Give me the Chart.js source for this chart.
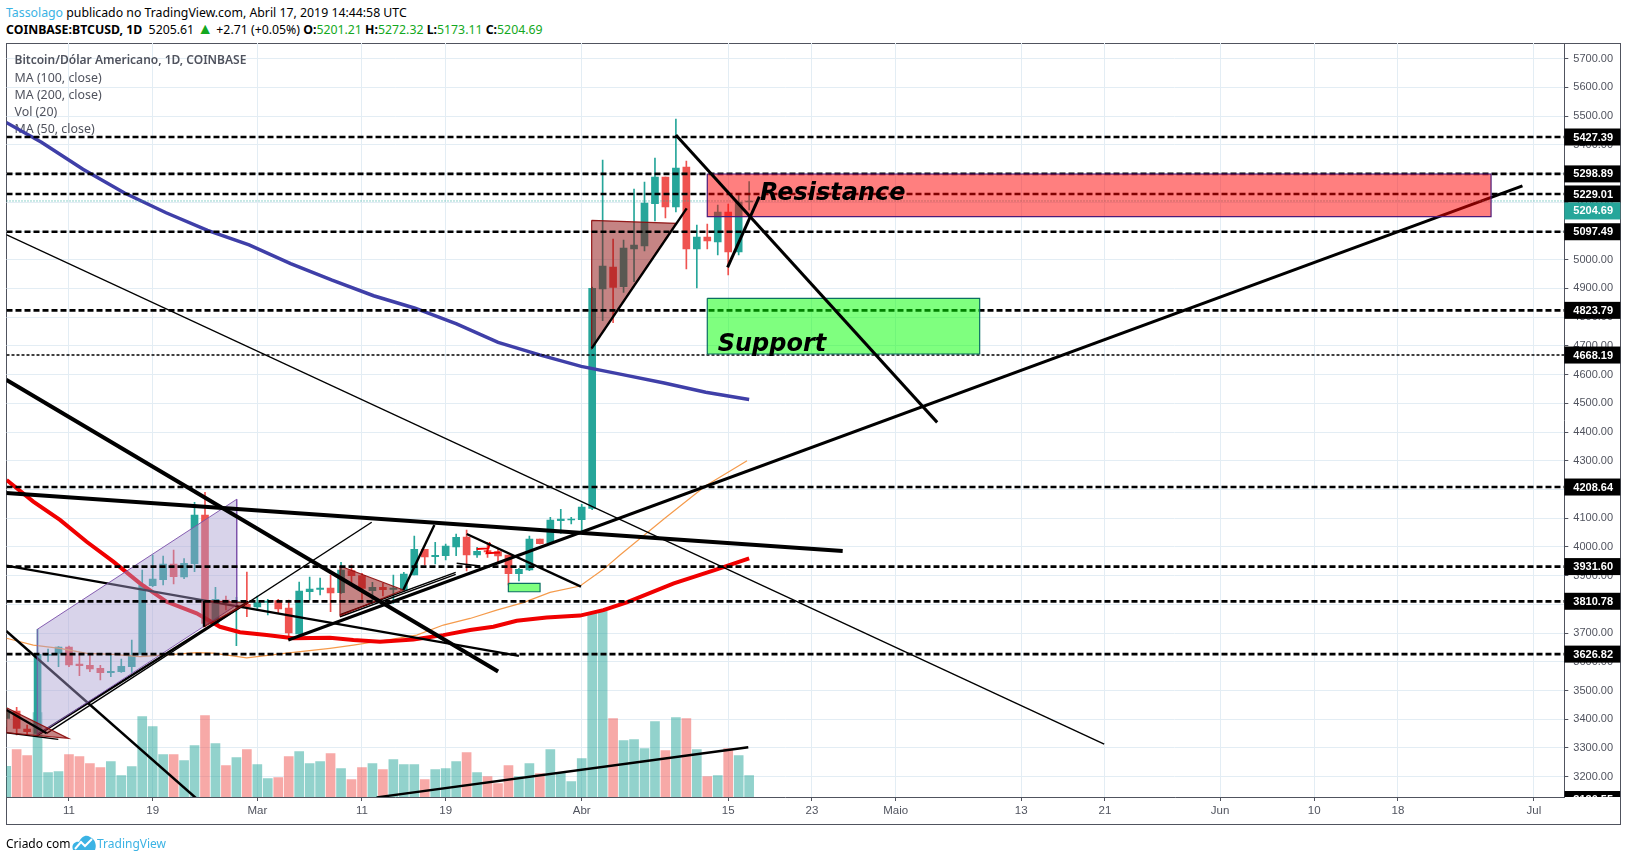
<!DOCTYPE html>
<html lang="pt">
<head>
<meta charset="utf-8">
<title>BTCUSD</title>
<script src="https://cdn.jsdelivr.net/npm/chart.js@4/dist/chart.umd.min.js"></script>
<style>
    html, body { margin: 0; padding: 0; background: #fff; width: 1627px; height: 861px; overflow: hidden; }
    body { font-family: "Noto Sans", sans-serif; font-size: 12.3px; color: #000; }
    .abs { position: absolute; white-space: nowrap; }
    #frame { position: absolute; left: 6px; top: 43px; width: 1615px; height: 782px; box-sizing: border-box; border: 1px solid #50535e; }
    #chart { position: absolute; left: 0; top: 0; }
    .up { color: #13a821; }
    .tri { color: #13a821; font-size: 16px; line-height: 0; }
    .link { color: #3bb3e4; }
</style>
</head>
<body>
<div class="abs" style="left:6px;top:4px;line-height:17px"><span class="link">Tassolago</span> publicado no TradingView.com, Abril 17, 2019 14:44:58 UTC</div>
<div class="abs" style="left:6px;top:21px;line-height:17px"><b>COINBASE:BTCUSD, 1D</b>&nbsp; 5205.61 <span class="tri">▲</span> +2.71 (+0.05%) <b>O:</b><span class="up">5201.21</span> <b>H:</b><span class="up">5272.32</span> <b>L:</b><span class="up">5173.11</span> <b>C:</b><span class="up">5204.69</span></div>

<div id="frame"></div>
<canvas id="chart" width="1627" height="861"></canvas>

<div class="abs" style="left:6px;top:835px;line-height:17px;font-size:12px">Criado com</div>
<svg class="abs" style="left:72px;top:834px" width="24" height="17" viewBox="0 0 24 17">
    <path d="M1 16 C-1 11 3 7 7 8 C9 3 14 0 18 3 C23 5 25 11 23 16 Z" fill="#3bb3e4"/>
    <path d="M3 15 L9 8 L13 12 L20 5" fill="none" stroke="#fff" stroke-width="2"/>
</svg>
<div class="abs link" style="left:97px;top:835px;line-height:17px;font-size:12px">TradingView</div>

<script>
// days are counted from Feb 11 2019 = 0
const firstDay = -6;
const opens = [3403,3428.7,3366,3351,3622.6,3629.5,3651.6,3592.4,3587.7,3577.3,3562.2,3565.7,3583.1,3626,3865.1,3886,3940.6,3895.3,3941.7,4111.2,3734,3815.2,3806,3800.1,3790.9,3807.1,3812.9,3787.4,3696.8,3844.2,3852.4,3857,3840.8,3917.4,3900,3847.7,3859.3,3852.4,3850.1,3902.3,3991.7,3966.1,3969.6,3999.8,4034.6,3971.9,3987,3983.5,3971.9,3906.9,3919.7,4027.6,4014.9,4091.5,4093.8,4094.9,4134.4,4898.1,4974.7,4906.2,5037.4,5047.8,5195.2,5288.1,5183.6,5322.9,5037.4,5079.2,5061.7,5166.2,5026.9,5201.21];
const highs = [3442,3441.5,3380,3713,3644.6,3652.7,3655,3626,3622.6,3587.7,3626,3609.8,3675.9,3919.7,3971.9,3968.4,3989.3,3959.2,4155.3,4190.1,3859.3,3829.2,3824.5,3912.7,3829.2,3817.6,3817.6,3815.2,3877.9,3895.3,3891.8,3902.3,3946.4,3937.1,3908.1,3876.8,3873.3,3902.3,3911.6,4038.1,3991.7,4016,4010.2,4045,4059,3998.6,4014.9,3991.7,3971.9,3925.5,4038.1,4027.6,4103.1,4130.9,4103.1,4148.3,4905,5347.3,5072.2,5068.7,5246.3,5270.7,5354.2,5288.1,5490,5343.8,5120.9,5124.4,5190.6,5194.1,5225.4,5272.32];
const lows = [3374,3345.2,3345,3345,3600.5,3583.1,3583,3551.8,3565.7,3536.7,3548.3,3563.4,3563.4,3626,3861.7,3867.5,3871,3889.5,3913.9,3722.4,3728.2,3780.4,3656.2,3757.2,3780.4,3763,3768.8,3675.9,3693.3,3815.2,3832.6,3774.6,3838.4,3867.5,3817.6,3803.6,3829.2,3803.6,3844.2,3902.3,3937.1,3940.6,3954.5,3969.6,3916.2,3963.8,3963.8,3948.7,3867.5,3881.4,3917.4,4010.2,4012.6,4047.4,4079.9,4056.7,4130,4787.8,4780.8,4886.5,4923.6,5030.4,5134.9,5145.3,5166.2,4967.7,4901.6,5037.4,5016.5,4946.8,5016.5,5173.11];
const closes = [3426,3368.4,3356.8,3626,3626,3651.6,3588.9,3586.6,3575,3562.2,3566.8,3584.3,3623.7,3867.5,3888.3,3940.6,3896.5,3942.9,4111.2,3734,3817.6,3806,3809.4,3790.9,3806,3811.7,3783.9,3700.3,3846.6,3853.5,3857,3839.6,3919.7,3900,3855.8,3859.3,3851.2,3857,3905.8,3991.7,3965,3970.8,4003.3,4033.4,3971.9,3984.7,3982.4,3968.4,3906.9,3922,4027.6,4011.4,4093.8,4097.3,4097.3,4139.1,4900.4,4978.2,4903.9,5040.9,5051.3,5197.5,5288.1,5183.6,5319.4,5037.4,5079.2,5065.2,5166.2,5026.9,5201,5204.69];
const volumes = [92,142,124,253,73,76,127,121,100,88,106,64,91,241,211,127,127,109,154,244,160,94,118,142,97,55,58,121,136,100,106,130,85,52,88,100,82,112,97,97,52,82,85,106,133,73,61,40,94,61,100,70,142,73,46,115,550,557,235,169,172,145,226,139,238,235,142,61,64,145,124,64];
const volumeAxisMax = 2262;

const ma50Days = [-5.96,-3.41,-0.86,1.69,4.24,6.79,9.34,12.2,14.43,16.34,18.89,21.44,24.94,27.18,29.72,32.91,35.78,38.33,40.56,42.79,45.65,48.84,51.07,53.3,57.8,61.84,65];
const ma50Values = [4233,4158,4094,4018,3949,3873,3809,3769,3722,3703,3693,3682,3684,3676,3670,3678,3693,3711,3722,3743,3754,3761,3780,3807,3873,3921,3960];
const ma100Days = [-5.96,-3.41,-0.86,1.69,4.24,6.79,9.34,12.2,13.8,16.98,20.8,24.94,27.18,30.36,33.23,35.78,38.33,40.87,43.42,45.97,48.84,51.07,52.66,56.88,60.85,64.8];
const ma100Values = [3682,3658,3647,3629.5,3626,3618,3624,3632,3630,3614,3630,3647,3658,3676,3693,3728,3751,3780,3806,3842,3864,3922,3972,4098,4213,4300];
const ma200Days = [-6,-2.63,1.34,5.31,9.28,13.24,17.21,21.18,25.14,29.11,33.08,37.04,41.01,44.98,48.95,52.91,56.88,60.85,65];
const ma200Values = [5478,5409.4,5315.4,5232.3,5163.6,5102.2,5051.6,4986.6,4928.8,4874.6,4831.2,4777,4712,4668.6,4628.8,4599.9,4571,4538.5,4513.2];

const levelPrices = [5427.39,5298.89,5229.01,5097.49,4823.79,4208.64,3931.6,3810.78,3626.82];
const thinLevelPrice = 4668.19;
const clippedLevelPrice = 3120.55;
const lastPrice = 5204.69;

const priceTicks = [3200,3300,3400,3500,3600,3700,3800,3900,4000,4100,4200,4300,4400,4500,4600,4700,4800,4900,5000,5100,5200,5300,5400,5500,5600,5700];
const tickDays = [0,8,18,28,36,49,63,71,79,91,99,110,119,127,140];
const tickLabels = ['11','19','Mar','11','19','Abr','15','23','Maio','13','21','Jun','10','18','Jul'];
const legendTitle = 'Bitcoin/Dólar Americano, 1D, COINBASE';
const legendLines = ['MA (100, close)','MA (200, close)','Vol (20)','MA (50, close)'];

// hand drawn lines as [day, price] pairs
const underLines = [
    [[-6,3935],[43,3620.7]],
    [[-6,3707.4],[12.25,3122]],
    [[-3.03,3345],[17.14,3809]]
];
const hairLines = [
    [[-6,5087.7],[98.93,3313.5]],
    [[-2.13,3351],[28.93,4086]],
    [[37.05,3943],[39.28,3933.6]],
    [[25.9,3757],[36.96,3904.5]],
    [[25.9,3764],[36.96,3911.5]],
    [[-5.96,3353],[-1.02,3330]]
];
const mediumLines = [
    [[31.95,3850],[34.92,4076.4]],
    [[38.01,4045],[48.93,3861.6]],
    [[29.4,3128],[64.92,3302.6]],
    [[-5.96,3432],[-2.13,3351]],
    [[12.9,3813],[12.9,3722]],
    [[49.95,4691.5],[59.03,5179]]
];
const mainTrend = [[20.96,3676],[138.9,5257]];
const heavyLines = [
    [[-6,4581.9],[41.01,3566.4]],
    [[-6,4188],[73.94,3985.6]]
];
const topLines = [
    [[58,5434],[82.97,4433.7]],
    [[62.94,4973.5],[65.97,5219.6]]
];
const redScribble = [[38.96,3993],[40.08,3995],[40.24,4015],[39.92,3978],[41.19,3981]];

const channelShape = [[-3.03,3713],[16.03,4166],[16.03,3798],[-3.03,3345],[-3.03,3713]];
const triangleShapes = [
    [[-5.96,3440],[-0.06,3333.5],[-5.96,3353],[-5.96,3440]],
    [[12.9,3813],[17.14,3806],[12.9,3722],[12.9,3813]],
    [[25.9,3933.6],[31.95,3850],[25.9,3760.7],[25.9,3933.6]],
    [[49.95,5137.2],[58,5126.7],[49.95,4691.5],[49.95,5137.2]]
];
const resistanceBox = [[61,5298.5],[135.9,5298.5],[135.9,5149.9],[61,5149.9],[61,5298.5]];
const supportBoxes = [
    [[61,4865.7],[87.03,4865.7],[87.03,4671.8],[61,4671.8],[61,4865.7]],
    [[41.99,3873.3],[45.02,3873.3],[45.02,3844],[41.99,3844],[41.99,3873.3]]
];
const zoneNames = ['Resistance','Support'];
const zoneNameDays = [66.03,62];
const zoneNamePrices = [5209,4681];

const xMin = -5.97, xMax = 142.9;
const yMin = 3129.3, yMax = 5754.7;
const upColor = '#26a69a', downColor = '#ef5350';
const axisColor = '#50535e', gridColor = '#e3edf4';

const datasets = [];

const addDataset = (ds) => {
    // first added is drawn first
    ds.order = 1000 - datasets.length;
    datasets.push(ds);
};

const toPoints = (pairs) => pairs.map(p => ({ x: p[0], y: p[1] }));

const addLine = (pairs, color, width, extra = {}) => {
    addDataset(Object.assign({
        type: 'line',
        data: toPoints(pairs),
        borderColor: color,
        borderWidth: width,
        pointRadius: 0,
        tension: 0,
        fill: false,
        clip: 0
    }, extra));
};

const addShape = (pairs, fillColor, lineColor, width) => {
    addLine(pairs, lineColor, width, { fill: 'shape', backgroundColor: fillColor });
};

const dayOf = (i) => firstDay + i;
const candleColors = opens.map((o, i) => closes[i] >= o ? upColor : downColor);
const volumeColors = opens.map((o, i) => closes[i] >= o ? 'rgba(38,166,154,0.5)' : 'rgba(239,83,80,0.5)');

addDataset({
    type: 'bar',
    yAxisID: 'vol',
    grouped: false,
    barThickness: 9,
    data: volumes.map((v, i) => ({ x: dayOf(i), y: v })),
    backgroundColor: volumeColors
});
addDataset({
    type: 'bar',
    grouped: false,
    barThickness: 1,
    data: highs.map((h, i) => ({ x: dayOf(i), y: [lows[i], h] })),
    backgroundColor: candleColors
});
addDataset({
    type: 'bar',
    grouped: false,
    barThickness: 7,
    data: opens.map((o, i) => ({ x: dayOf(i), y: [o, closes[i]] })),
    backgroundColor: candleColors
});

addLine(ma100Days.map((d, i) => [d, ma100Values[i]]), '#f59b4c', 1.2);
addLine(ma50Days.map((d, i) => [d, ma50Values[i]]), '#f00000', 4);
addLine(ma200Days.map((d, i) => [d, ma200Values[i]]), '#3f3fa8', 3.5);
addLine(redScribble, '#f00000', 2);

underLines.forEach(l => addLine(l, '#000', 2.5));
hairLines.forEach(l => addLine(l, '#000', 1.4));
addLine(mainTrend, '#000', 3);

addShape(channelShape, 'rgba(168,157,208,0.45)', 'rgba(123,80,170,0.9)', 1);
triangleShapes.forEach(t => addShape(t, 'rgba(140,10,10,0.5)', 'rgba(140,10,10,0.9)', 1.2));

levelPrices.forEach(p => addLine([[xMin, p], [xMax, p]], '#000', 2.7, { borderDash: [6, 3] }));
addLine([[xMin, thinLevelPrice], [xMax, thinLevelPrice]], '#000', 1.4, { borderDash: [3, 2] });
addLine([[xMin, lastPrice], [xMax, lastPrice]], upColor, 1, { borderDash: [1, 2] });

mediumLines.forEach(l => addLine(l, '#000', 2.4));
heavyLines.forEach(l => addLine(l, '#000', 4));

addShape(resistanceBox, 'rgba(255,0,0,0.5)', '#4b1a78', 1.2);
supportBoxes.forEach(b => addShape(b, 'rgba(0,255,0,0.5)', '#0b6e62', 1.2));
topLines.forEach(l => addLine(l, '#000', 3));

// legend text sits over the grid but under the marks
const legendPlugin = {
    id: 'legendText',
    beforeDatasetsDraw(chart) {
        const { ctx, chartArea } = chart;
        const left = chartArea.left + 8;
        ctx.save();
        ctx.fillStyle = axisColor;
        ctx.textAlign = 'left';
        ctx.textBaseline = 'middle';
        ctx.font = '600 12px "Noto Sans"';
        ctx.fillText(legendTitle, left, chartArea.top + 18);
        ctx.font = '12.4px "Noto Sans"';
        legendLines.forEach((line, i) => {
            ctx.fillText(line, left, chartArea.top + 35 + i * 17.2);
        });
        ctx.restore();
    }
};

// names of the zones, on top of the marks
const zoneNamePlugin = {
    id: 'zoneNames',
    afterDatasetsDraw(chart) {
        const { ctx, scales } = chart;
        ctx.save();
        ctx.fillStyle = '#000';
        ctx.font = 'italic bold 24px "DejaVu Sans"';
        ctx.textAlign = 'left';
        ctx.textBaseline = 'alphabetic';
        zoneNames.forEach((name, i) => {
            ctx.fillText(name, scales.x.getPixelForValue(zoneNameDays[i]), scales.y.getPixelForValue(zoneNamePrices[i]));
        });
        ctx.restore();
    }
};

// price tags on the right axis
const priceTagPlugin = {
    id: 'priceTags',
    afterDraw(chart) {
        const { ctx, scales, chartArea } = chart;
        const yAxis = scales.y;
        const tagLeft = chartArea.right;
        const tagWidth = yAxis.width;
        const textLeft = tagLeft + 9;
        const drawTag = (price, color, nudge = 0) => {
            const y = yAxis.getPixelForValue(price) + nudge;
            ctx.fillStyle = color;
            ctx.fillRect(tagLeft, y - 8.5, tagWidth, 17);
            ctx.fillStyle = '#fff';
            ctx.fillText(price.toFixed(2), textLeft, y + 0.5);
        };
        ctx.save();
        ctx.font = 'bold 11px "Liberation Sans"';
        ctx.textAlign = 'left';
        ctx.textBaseline = 'middle';
        levelPrices.forEach(p => drawTag(p, '#000'));
        drawTag(thinLevelPrice, '#000');
        drawTag(lastPrice, upColor, 10);
        ctx.beginPath();
        ctx.rect(tagLeft, chartArea.top, tagWidth, chartArea.height);
        ctx.clip();
        drawTag(clippedLevelPrice, '#000');
        ctx.restore();
    }
};

new Chart(document.getElementById('chart').getContext('2d'), {
    type: 'line',
    data: { datasets: datasets },
    plugins: [legendPlugin, zoneNamePlugin, priceTagPlugin],
    options: {
        responsive: false,
        animation: false,
        events: [],
        layout: { padding: { left: 6.5, top: 43, right: 6.7, bottom: 37 } },
        plugins: {
            legend: { display: false },
            tooltip: { enabled: false }
        },
        scales: {
            x: {
                type: 'linear',
                min: xMin,
                max: xMax,
                offset: false,
                afterBuildTicks: (scale) => { scale.ticks = tickDays.map(v => ({ value: v })); },
                afterFit: (scale) => { scale.height = 27; },
                grid: { color: gridColor, offset: false, tickColor: axisColor, tickLength: 4 },
                border: { color: axisColor },
                ticks: {
                    autoSkip: false,
                    maxRotation: 0,
                    padding: 3,
                    color: axisColor,
                    font: { family: '"Liberation Sans"', size: 11.5 },
                    callback: (value) => tickLabels[tickDays.indexOf(value)]
                }
            },
            y: {
                type: 'linear',
                position: 'right',
                min: yMin,
                max: yMax,
                afterBuildTicks: (scale) => { scale.ticks = priceTicks.map(v => ({ value: v })); },
                afterFit: (scale) => { scale.width = 56; },
                grid: { color: gridColor, tickColor: axisColor, tickLength: 4 },
                border: { color: axisColor },
                ticks: {
                    autoSkip: false,
                    padding: 5,
                    color: axisColor,
                    font: { family: '"Liberation Sans"', size: 11 },
                    callback: (value) => value.toFixed(2)
                }
            },
            vol: {
                type: 'linear',
                display: false,
                min: 0,
                max: volumeAxisMax
            }
        }
    }
});
</script>
</body>
</html>
